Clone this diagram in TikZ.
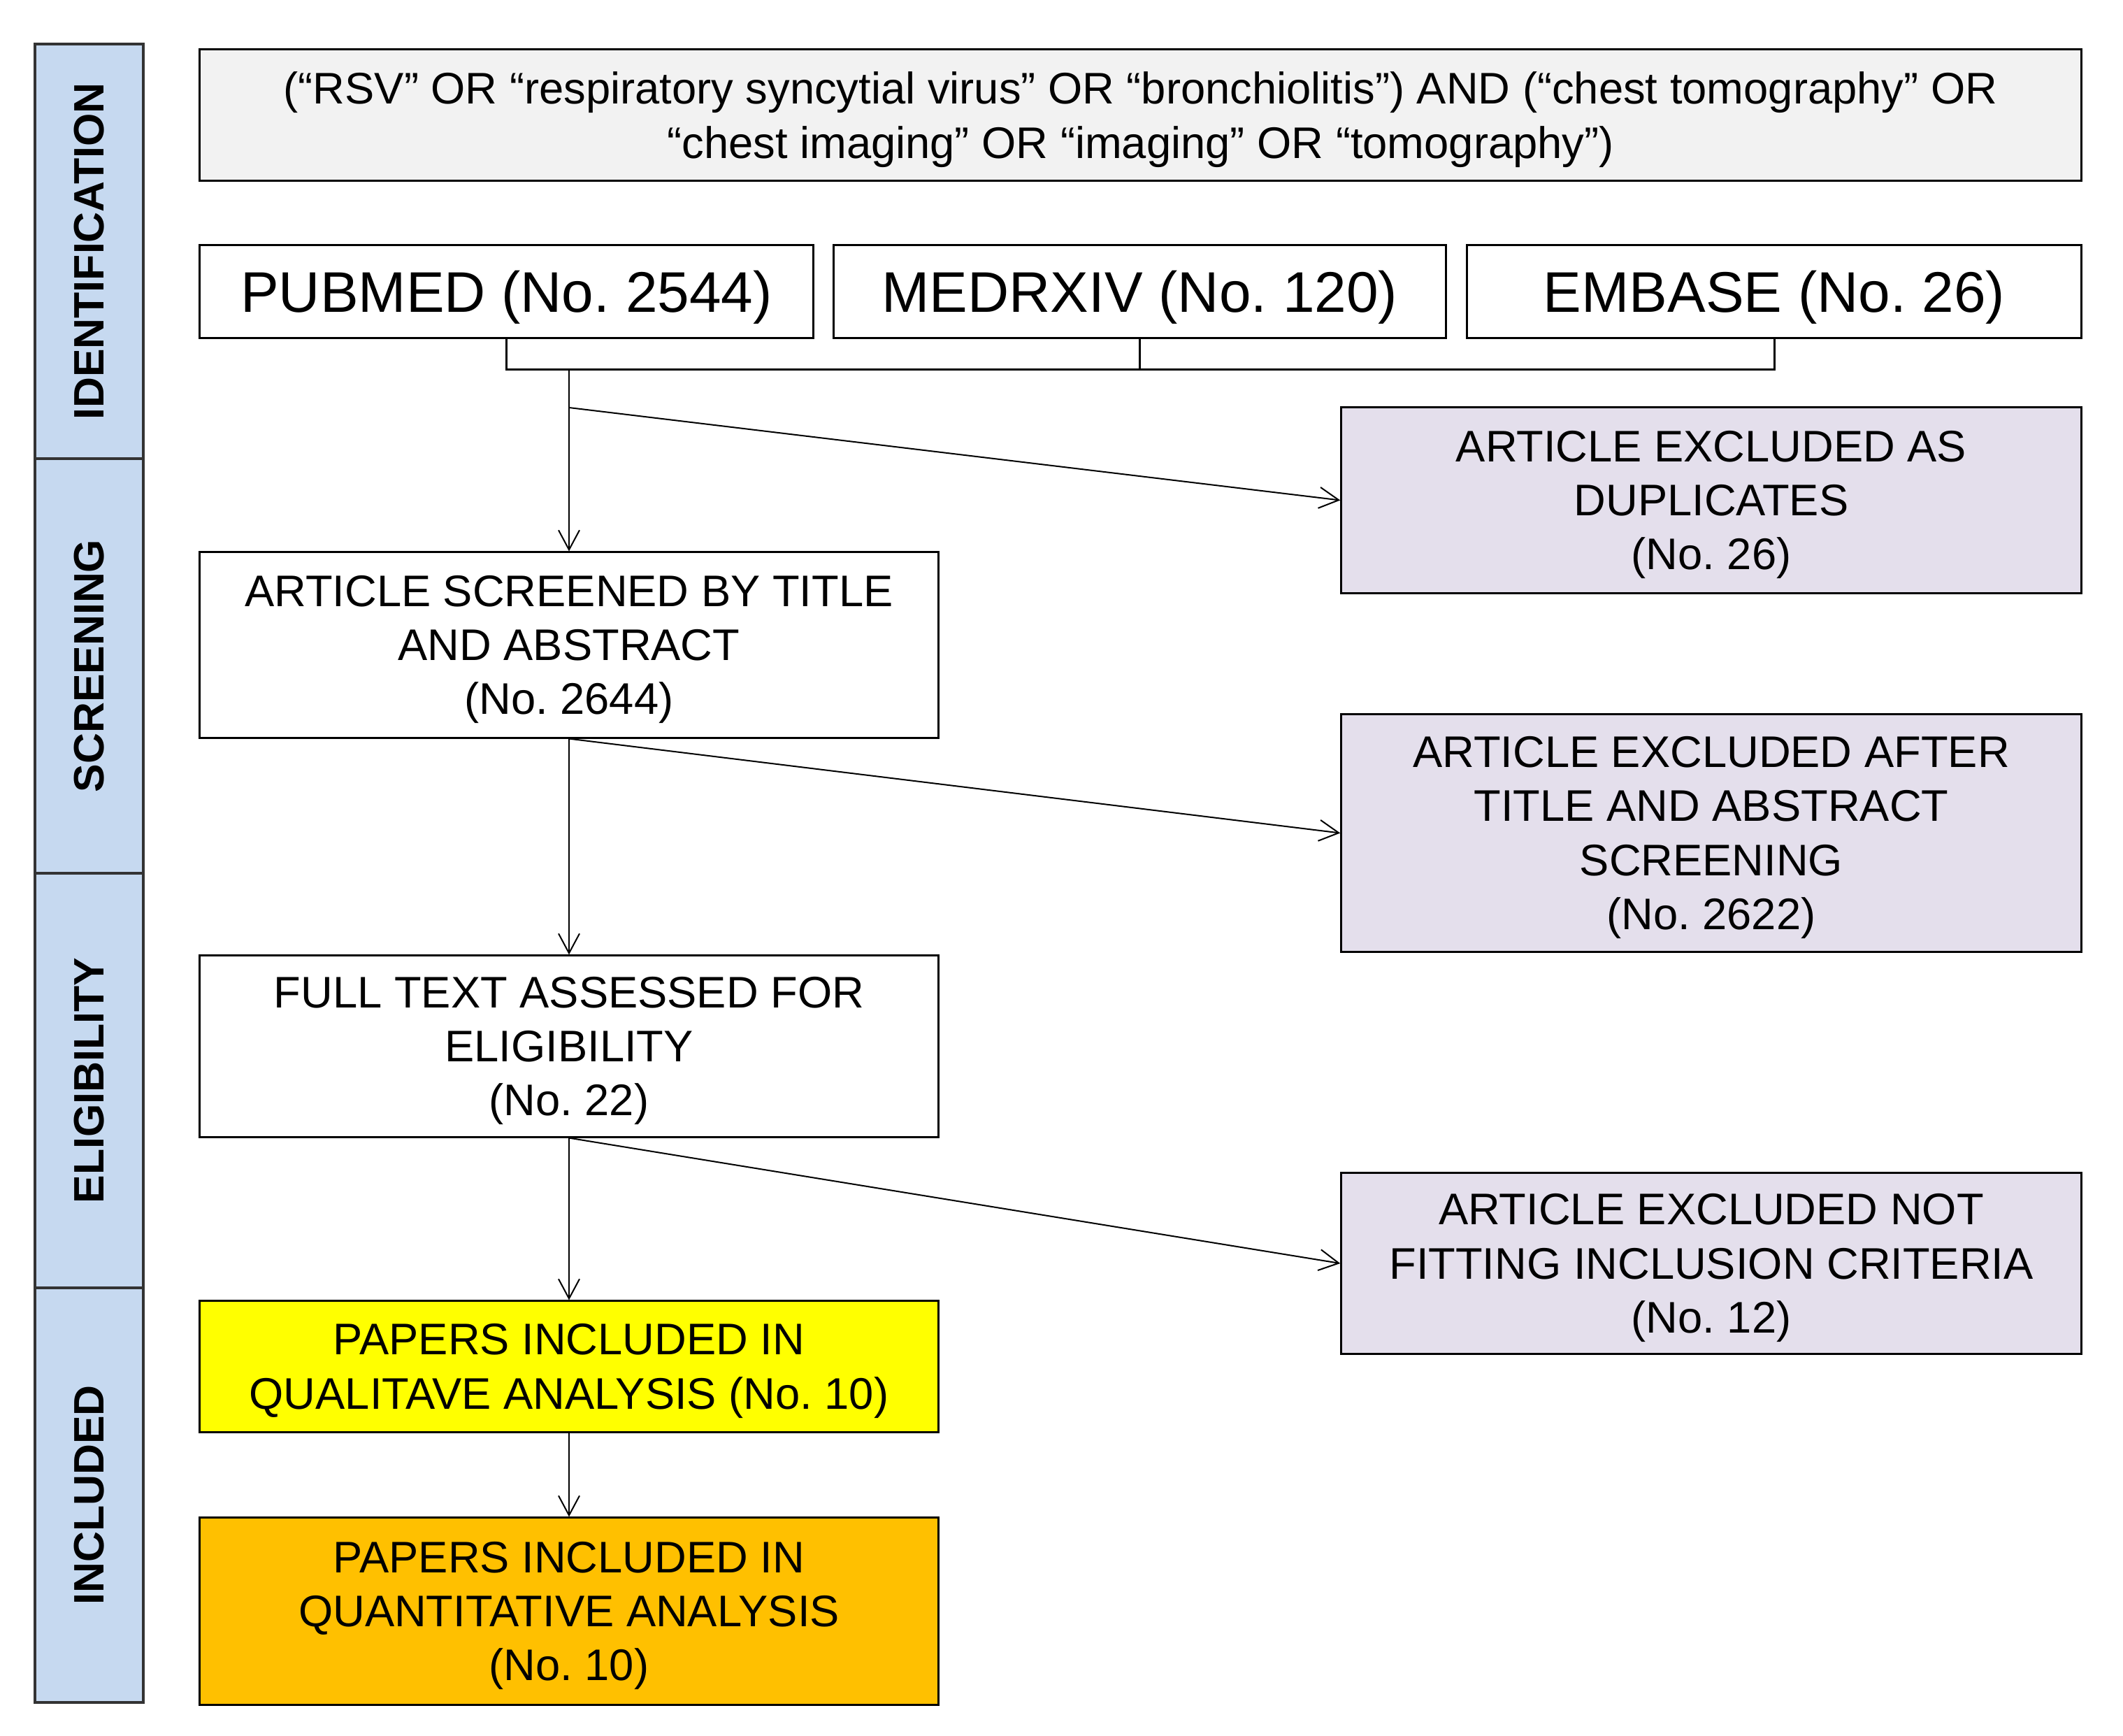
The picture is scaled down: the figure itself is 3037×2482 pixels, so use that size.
\documentclass[tikz,border=0pt]{standalone}
\usepackage{fontspec}
\setmainfont{Liberation Sans}
\usetikzlibrary{arrows.meta}
\definecolor{barblue}{HTML}{C6D9F0}
\definecolor{qgray}{HTML}{F2F2F2}
\definecolor{lav}{HTML}{E4DFEC}
\definecolor{yelfill}{HTML}{FFFF00}
\definecolor{orafill}{HTML}{FFC000}
\frenchspacing
\begin{document}
\frenchspacing
\begin{tikzpicture}[x=0.01cm,y=-0.01cm,
  box/.style={draw=black, line width=0.03cm, align=center, inner sep=0pt, text depth=0pt,
    font=\fontsize{18}{22}\selectfont\frenchspacing},
  srcbox/.style={box, font=\fontsize{23.3}{28}\selectfont\frenchspacing},
  phase/.style={draw=black!80, fill=barblue, line width=0.045cm, rotate=90,
    minimum width=5.93cm, minimum height=1.55cm, inner sep=0pt,
    font=\fontsize{17.3}{20}\selectfont\bfseries},
  arr/.style={line width=0.02cm, -{Straight Barb[length=0.28cm,width=0.3cm]}},
  conn/.style={line width=0.03cm}]
\useasboundingbox (0,0) rectangle (3037,2482);

% phase bar
\node[phase] (p1) at (127.5,359.5) {IDENTIFICATION};
\node[phase] (p2) at (127.5,952.5) {SCREENING};
\node[phase] (p3) at (127.5,1545.5) {ELIGIBILITY};
\node[phase] (p4) at (127.5,2138.5) {INCLUDED};

% query
\node[box, fill=qgray, minimum width=26.91cm, minimum height=1.87cm] (q) at (1631.5,164.5)
  {(“RSV” OR “respiratory syncytial virus” OR “bronchiolitis”) AND (“chest tomography” OR\\
   “chest imaging” OR “imaging” OR “tomography”)};

% sources
\node[srcbox, minimum width=8.77cm, minimum height=1.32cm] (pub) at (724.5,417) {PUBMED (No. 2544)};
\node[srcbox, minimum width=8.75cm, minimum height=1.32cm] (med) at (1630.5,417) {MEDRXIV (No. 120)};
\node[srcbox, minimum width=8.78cm, minimum height=1.32cm] (emb) at (2538,417) {EMBASE (No. 26)};

% main column
\node[box, minimum width=10.56cm, minimum height=2.65cm] (scr) at (814,922.5)
  {ARTICLE SCREENED BY TITLE\\AND ABSTRACT\\(No. 2644)};
\node[box, minimum width=10.56cm, minimum height=2.59cm] (full) at (814,1496.5)
  {FULL TEXT ASSESSED FOR\\ELIGIBILITY\\(No. 22)};
\node[box, fill=yelfill, minimum width=10.56cm, minimum height=1.87cm] (yel) at (814,1954.5)
  {PAPERS INCLUDED IN\\QUALITAVE ANALYSIS (No. 10)};
\node[box, fill=orafill, minimum width=10.56cm, minimum height=2.67cm] (ora) at (814,2304.5)
  {PAPERS INCLUDED IN\\QUANTITATIVE ANALYSIS\\(No. 10)};

% exclusions
\node[box, fill=lav, minimum width=10.58cm, minimum height=2.65cm] (dup) at (2448,715.5)
  {ARTICLE EXCLUDED AS\\DUPLICATES\\(No. 26)};
\node[box, fill=lav, minimum width=10.58cm, minimum height=3.39cm] (aft) at (2448,1191.5)
  {ARTICLE EXCLUDED AFTER\\TITLE AND ABSTRACT\\SCREENING\\(No. 2622)};
\node[box, fill=lav, minimum width=10.58cm, minimum height=2.58cm] (nfit) at (2448,1807)
  {ARTICLE EXCLUDED NOT\\FITTING INCLUSION CRITERIA\\(No. 12)};

% bracket
\coordinate (br) at (814,528);
\coordinate (sp1) at (814,583);
\draw[conn] (pub.south) |- (emb.south |- br) -- (emb.south);
\draw[conn] (med.south) -- (med.south |- br);

% arrows
\draw[arr] (br) -- (scr.north);
\draw[arr] (sp1) -- (dup.west);
\draw[arr] (scr.south) -- (full.north);
\draw[arr] (scr.south) -- (aft.west);
\draw[arr] (full.south) -- (yel.north);
\draw[arr] (full.south) -- (nfit.west);
\draw[arr] (yel.south) -- (ora.north);
\end{tikzpicture}
\end{document}
